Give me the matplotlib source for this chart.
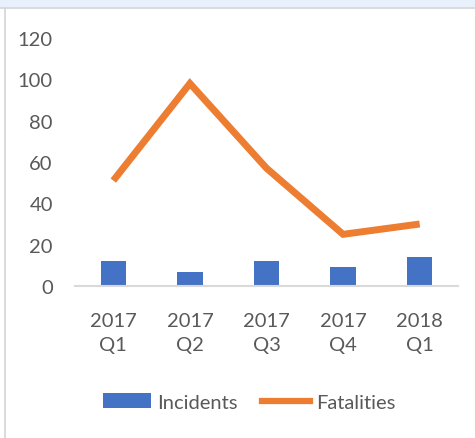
import matplotlib
matplotlib.use("Agg")
import matplotlib.pyplot as plt
from matplotlib.patches import Patch, Rectangle
from matplotlib.lines import Line2D
import numpy as np

# data
quarters = ["2017\nQ1", "2017\nQ2", "2017\nQ3", "2017\nQ4", "2018\nQ1"]
incidents = [12, 7, 12, 9, 14]
fatalities = [51, 98, 57, 25, 30]
y_ticks = [0, 20, 40, 60, 80, 100, 120]

bar_color = "#4472C4"
line_color = "#ED7D31"
text_color = "#595959"

plt.rcParams["font.family"] = ["Lato", "DejaVu Sans"]

fig = plt.figure(figsize=(4.75, 4.39), dpi=100)
W, H = 475, 439

# window-like frame: light blue strip on top, grey edges
fig.patches.append(Rectangle((0, 1 - 8 / H), 1, 8 / H, transform=fig.transFigure,
                             facecolor="#E8F1FB", edgecolor="none", zorder=0))
fig.add_artist(Line2D([0, 1], [1 - 9 / H, 1 - 9 / H], transform=fig.transFigure,
                      color="#D4D4D4", lw=1.2))
fig.add_artist(Line2D([4.5 / W, 4.5 / W], [0, 1 - 9 / H], transform=fig.transFigure,
                      color="#D4D4D4", lw=1.2))

ax = fig.add_axes([75 / W, (H - 287) / H, (458 - 75) / W, (287 - 39) / H])
x = np.arange(len(quarters))

ax.bar(x, incidents, width=0.33, color=bar_color, zorder=2)
ax.plot(x, fatalities, color=line_color, lw=5, solid_joinstyle="miter",
        solid_capstyle="butt", zorder=3)

ax.set_xlim(-0.5, len(quarters) - 0.5)
ax.set_ylim(0, 120)
ax.set_yticks(y_ticks)
ax.set_xticks(x)
ax.set_xticklabels(quarters, linespacing=1.45)

for side in ["top", "right", "left"]:
    ax.spines[side].set_visible(False)
ax.spines["bottom"].set_color("#D9D9D9")
ax.spines["bottom"].set_linewidth(1.5)

ax.tick_params(axis="y", length=0, pad=16, labelsize=14.5, labelcolor=text_color)
ax.tick_params(axis="x", length=0, pad=19, labelsize=14.5, labelcolor=text_color)

handles = [Patch(facecolor=bar_color, edgecolor="none"),
           Line2D([0], [0], color=line_color, lw=4.5)]
fig.legend(handles, ["Incidents", "Fatalities"], loc="center",
           bbox_to_anchor=(0.524, 36 / H), ncol=2, frameon=False,
           fontsize=14.5, labelcolor=text_color, handlelength=2.4,
           handletextpad=0.3, columnspacing=1.2)

fig.savefig("out.png", dpi=100)
